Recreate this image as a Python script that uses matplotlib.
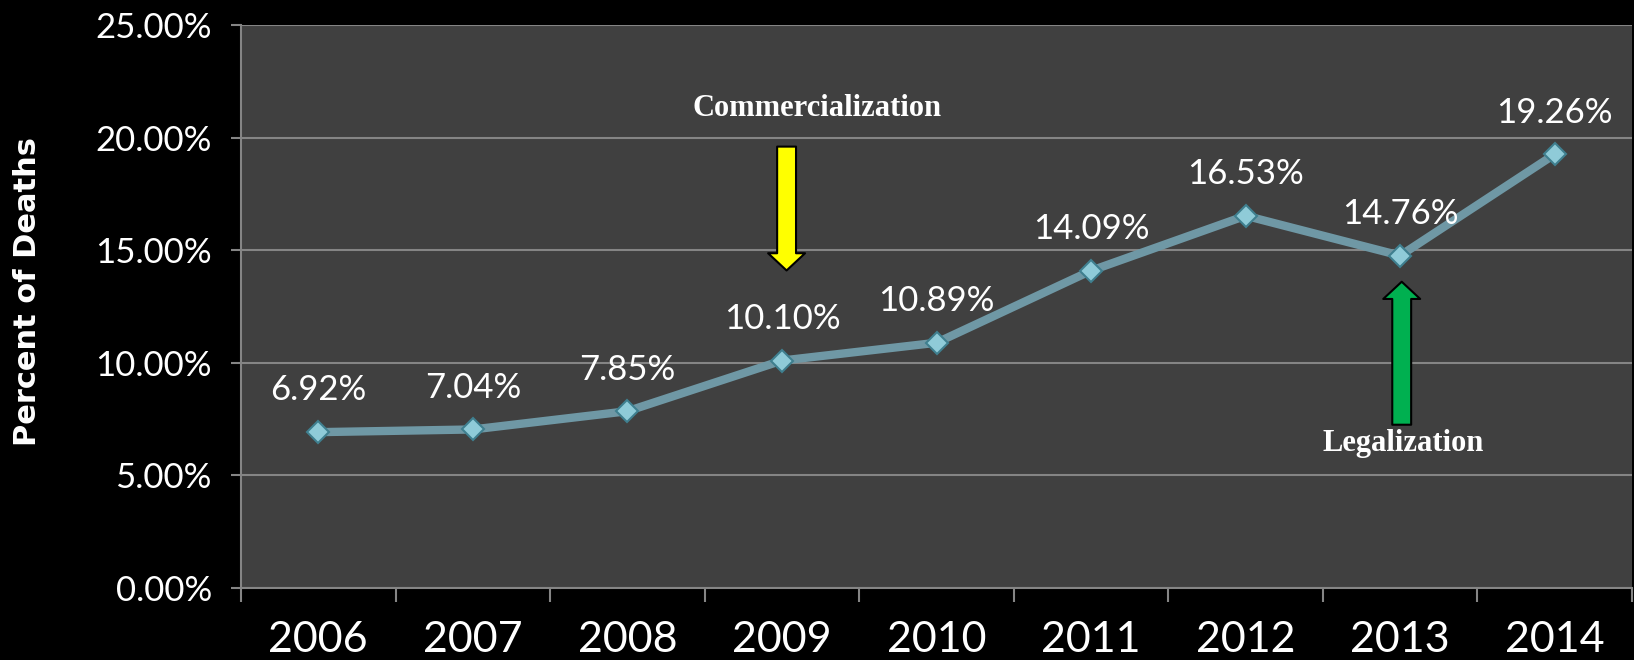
import matplotlib
matplotlib.use("Agg")
import matplotlib.pyplot as plt

years = ["2006", "2007", "2008", "2009", "2010", "2011", "2012", "2013", "2014"]
pct_deaths = [6.92, 7.04, 7.85, 10.10, 10.89, 14.09, 16.53, 14.76, 19.26]
y_ticks = [0, 5, 10, 15, 20, 25]

BG = "black"
PLOT_BG = "#404040"
GRID = "#858585"
LINE = "#6f98a5"

fig = plt.figure(figsize=(16.34, 6.6), dpi=100, facecolor=BG)
ax = fig.add_axes([241 / 1634, 1 - 588 / 660, (1632 - 241) / 1634, (588 - 25) / 660])
ax.set_facecolor(PLOT_BG)

x = list(range(len(years)))
ax.plot(x, pct_deaths, color=LINE, lw=6, zorder=3, solid_capstyle="round")
ax.plot(x, pct_deaths, ls="none", marker="D", ms=11, mfc="#8fcbd8",
        mec="#3f7f8f", mew=1.5, zorder=4)

for xi, v in zip(x, pct_deaths):
    ax.annotate(f"{v:.2f}%", (xi, v), xytext=(0, 30), textcoords="offset points",
                ha="center", va="center", color="white", fontsize=25,
                family="Lato", zorder=5)

ax.set_xlim(-0.5, len(years) - 0.5)
ax.set_ylim(0, 25)
ax.set_yticks(y_ticks)
ax.set_yticklabels([f"{t:.2f}%" for t in y_ticks])
ax.yaxis.grid(True, color=GRID, lw=1.5)
ax.set_axisbelow(True)

# category boundaries get the tick marks, centres get the labels
ax.set_xticks([i - 0.5 for i in range(len(years) + 1)])
ax.set_xticklabels([])
ax.set_xticks(x, minor=True)
ax.set_xticklabels(years, minor=True)
ax.tick_params(axis="x", which="major", length=10, width=1.5, color=GRID)
ax.tick_params(axis="x", which="minor", length=0, pad=24, labelsize=31,
               labelcolor="white")
ax.tick_params(axis="y", length=7, width=1.5, color=GRID, pad=14,
               labelsize=25, labelcolor="white")
for lab in ax.get_xticklabels(minor=True) + ax.get_yticklabels():
    lab.set_family("Lato")

for side in ["top", "right"]:
    ax.spines[side].set_visible(False)
for side in ["left", "bottom"]:
    ax.spines[side].set_color(GRID)
    ax.spines[side].set_linewidth(1.5)

fig.text(28 / 1634, 1 - 291 / 660, "Percent of Deaths", rotation=90,
         ha="center", va="center", color="white", fontsize=22,
         fontweight="bold", family="DejaVu Sans")

arrow_style = "simple,head_length=0.62,head_width=1.33,tail_width=0.68"
ax.annotate("", xy=(3.03, 14.1), xytext=(3.03, 19.6),
            arrowprops=dict(arrowstyle=arrow_style, fc="#ffff00", ec="black",
                            lw=1.5, mutation_scale=20, shrinkA=0, shrinkB=0),
            zorder=6)
ax.text(3.23, 21.3, "Commercialization", ha="center", va="center",
        color="white", fontsize=22, fontweight="bold", family="Liberation Serif")

ax.annotate("", xy=(7.01, 13.6), xytext=(7.01, 7.25),
            arrowprops=dict(arrowstyle=arrow_style, fc="#00b050", ec="black",
                            lw=1.5, mutation_scale=20, shrinkA=0, shrinkB=0),
            zorder=6)
ax.text(7.02, 6.4, "Legalization", ha="center", va="center",
        color="white", fontsize=22, fontweight="bold", family="Liberation Serif")

fig.savefig("out.png", dpi=100, facecolor=BG)
